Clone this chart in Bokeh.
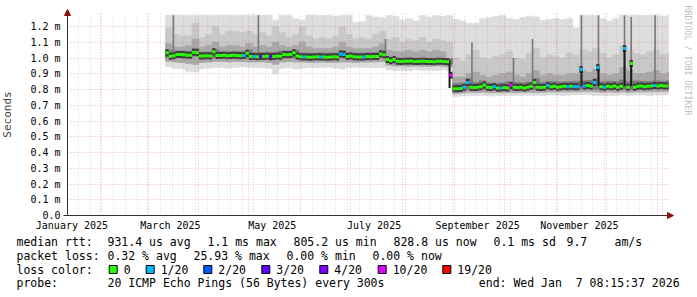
import math
from bokeh.plotting import figure
from bokeh.models import Range1d, FixedTicker, Grid, Label, Arrow, NormalHead
from bokeh.embed import file_html
from bokeh.resources import INLINE
from bokeh.core.properties import value

# ---------------- data ----------------
# time in days since 2025-01-01 00:00
X_START = 11.344          # Jan 12 2025 08:15:37
X_END = 371.344           # Jan 7 2026 08:15:37
Y_TOP = 1.2825            # ms

label_days = [14, 73, 134, 195, 257, 318]
label_names = ["January 2025", "March 2025", "May 2025", "July 2025",
               "September 2025", "November 2025"]
month_start_days = [31, 59, 90, 120, 151, 181, 212, 243, 273, 304, 334, 365]

y_ticks = [0, 0.1, 0.2, 0.3, 0.4, 0.5, 0.6, 0.7, 0.8, 0.9, 1, 1.1, 1.2]
y_tick_labels = ["0.0", "0.1 m", "0.2 m", "0.3 m", "0.4 m", "0.5 m", "0.6 m",
                 "0.7 m", "0.8 m", "0.9 m", "1.0 m", "1.1 m", "1.2 m"]

# smoke, 4-day consolidation starting at day 70 (ms)
SMOKE_START = 70
SMOKE_STEP = 4
smoke_max = [1.272,1.272,1.272,1.272,1.272,1.272,1.272,1.272,1.272,1.272,
             1.272,1.272,1.272,1.272,1.272,1.272,1.24,1.272,1.272,1.25,
             1.24,1.272,1.272,1.27,1.272,1.265,1.272,1.272,1.225,1.23,
             1.27,1.26,1.255,1.27,1.265,1.24,1.25,1.235,1.27,1.26,
             1.27,1.265,1.27,1.245,1.235,1.22,1.22,1.25,1.255,1.265,
             1.27,1.25,1.245,1.255,1.265,1.26,1.24,1.245,1.25,1.245,
             1.25,1.19,1.272,1.272,1.27,1.25,1.235,1.25,1.272,1.272,
             1.272,1.27,1.272,1.272,1.265,1.272]
smoke_hi2 = [1.19,1.15,1.14,1.14,1.22,1.13,1.15,1.2,1.15,1.17,
             1.17,1.16,1.17,1.15,1.16,1.14,1.2,1.16,1.13,1.15,
             1.2,1.14,1.12,1.13,1.12,1.14,1.2,1.15,1.12,1.13,
             1.12,1.15,1.17,1.12,1.13,1.1,1.12,1.11,1.13,1.1,
             1.12,1.11,1.1,1.0,0.98,1.02,1.05,1.0,0.99,1.01,
             1.02,1.04,1.0,0.99,1.03,1.06,1.0,1.02,1.01,1.0,
             1.03,1.02,1.05,1.04,1.06,1.03,1.0,1.02,1.08,1.05,
             1.03,1.02,1.04,1.05,1.02,1.03]
smoke_hi1 = [1.09,1.07,1.07,1.08,1.12,1.07,1.08,1.1,1.07,1.08,
             1.08,1.07,1.09,1.07,1.08,1.07,1.1,1.08,1.07,1.08,
             1.1,1.07,1.06,1.06,1.06,1.07,1.1,1.07,1.06,1.06,
             1.06,1.07,1.09,1.05,1.04,1.04,1.05,1.04,1.05,1.04,
             1.05,1.04,1.0,0.88,0.88,0.9,0.91,0.89,0.88,0.89,
             0.9,0.91,0.89,0.88,0.9,0.92,0.89,0.9,0.89,0.89,
             0.9,0.9,0.92,0.91,0.93,0.9,0.89,0.9,0.94,0.92,
             0.9,0.9,0.91,0.92,0.9,0.91]
smoke_hi0 = [1.05,1.045,1.045,1.042,1.06,1.038,1.038,1.055,1.04,1.04,
             1.042,1.04,1.05,1.035,1.035,1.035,1.036,1.045,1.045,1.05,
             1.033,1.032,1.03,1.032,1.032,1.032,1.048,1.035,1.032,1.032,
             1.034,1.035,1.048,1.005,1.0,0.998,1.0,0.999,0.998,0.997,
             0.999,0.997,0.995,0.838,0.84,0.87,0.845,0.855,0.842,0.84,
             0.842,0.85,0.845,0.842,0.848,0.87,0.845,0.852,0.85,0.848,
             0.85,0.852,0.855,0.858,0.87,0.85,0.852,0.85,0.86,0.85,
             0.855,0.852,0.85,0.855,0.852,0.855]
smoke_lo0 = [1.005,1.003,1.008,1.005,1.012,1.0,1.0,1.003,1.003,1.003,
             1.004,1.003,0.998,0.997,0.998,0.996,0.996,1.0,1.006,1.0,
             0.995,0.994,0.993,0.994,0.993,0.995,1.005,0.997,0.995,0.995,
             0.996,0.997,1.005,0.97,0.966,0.967,0.965,0.966,0.965,0.964,
             0.966,0.965,0.962,0.792,0.795,0.8,0.8,0.8,0.796,0.797,
             0.797,0.8,0.798,0.8,0.8,0.8,0.8,0.802,0.803,0.803,
             0.803,0.803,0.805,0.805,0.802,0.8,0.803,0.8,0.802,0.8,
             0.802,0.803,0.803,0.805,0.805,0.806]
smoke_lo1 = [0.98,0.975,0.972,0.965,0.96,0.972,0.975,0.978,0.978,0.975,
             0.978,0.978,0.975,0.975,0.975,0.972,0.96,0.975,0.978,0.975,
             0.975,0.972,0.972,0.974,0.972,0.972,0.975,0.974,0.972,0.974,
             0.975,0.975,0.978,0.955,0.95,0.95,0.948,0.95,0.948,0.947,
             0.95,0.948,0.945,0.775,0.778,0.782,0.782,0.782,0.78,0.78,
             0.78,0.782,0.78,0.782,0.782,0.782,0.782,0.785,0.785,0.785,
             0.785,0.785,0.787,0.787,0.785,0.782,0.785,0.782,0.785,0.782,
             0.785,0.785,0.785,0.787,0.787,0.788]
smoke_min = [0.944,0.935,0.93,0.915,0.912,0.93,0.935,0.94,0.94,0.935,
             0.94,0.945,0.94,0.938,0.94,0.935,0.9,0.935,0.94,0.93,
             0.935,0.94,0.938,0.942,0.94,0.935,0.93,0.94,0.942,0.94,
             0.94,0.938,0.94,0.925,0.92,0.922,0.918,0.925,0.92,0.922,
             0.92,0.925,0.92,0.755,0.758,0.76,0.76,0.762,0.758,0.76,
             0.76,0.762,0.76,0.762,0.76,0.762,0.76,0.765,0.765,0.762,
             0.765,0.765,0.768,0.765,0.762,0.76,0.762,0.76,0.765,0.762,
             0.765,0.765,0.763,0.765,0.765,0.768]

# thin outlier streaks (single days)
streak_day = [74.8, 125.7, 201.8, 253.6, 278.5, 289.9, 319.2, 329.4, 345.0, 349.0, 363.3]
streak_lo = [1.03, 1.03, 1.03, 0.84, 0.84, 0.84, 0.84, 0.84, 0.84, 0.84, 0.84]
streak_hi = [1.272, 1.272, 1.12, 1.1, 1.0, 1.12, 1.272, 1.272, 1.272, 1.26, 1.272]
jump_day = [240.2, 319.2, 329.4, 345.0, 349.0]
jump_lo = [0.81, 0.82, 0.82, 0.82, 0.82]
jump_hi = [0.985, 0.93, 0.94, 1.06, 0.965]

# median rtt, 2-day steps starting at day 70 (ms)
MED_START = 70
MED_STEP = 2
median = [1.033,1.011,1.015,1.022,1.022,1.021,1.018,1.018,1.037,1.035,
          1.013,1.013,1.014,1.013,1.04,1.016,1.016,1.018,1.015,1.016,
          1.017,1.016,1.015,1.016,1.03,1.009,1.01,1.008,1.009,1.01,
          1.011,1.008,1.01,1.012,1.011,1.022,1.02,1.022,1.033,1.012,
          1.008,1.007,1.007,1.005,1.006,1.008,1.006,1.007,1.005,1.006,
          1.008,1.007,1.025,1.022,1.01,1.012,1.008,1.006,1.007,1.007,
          1.009,1.008,1.01,1.01,1.025,1.02,0.99,0.982,0.99,0.98,
          0.978,0.98,0.979,0.981,0.978,0.977,0.979,0.98,0.978,0.977,
          0.976,0.979,0.98,0.978,0.976,0.89,0.805,0.805,0.806,0.815,
          0.845,0.815,0.812,0.815,0.818,0.828,0.815,0.812,0.818,0.81,
          0.81,0.812,0.81,0.825,0.815,0.812,0.815,0.81,0.815,0.82,
          0.845,0.815,0.813,0.815,0.825,0.818,0.82,0.815,0.818,0.82,
          0.817,0.82,0.817,0.817,0.927,0.822,0.825,0.82,0.845,0.94,
          0.818,0.815,0.82,0.818,0.822,0.815,0.82,1.06,0.815,0.965,
          0.815,0.82,0.822,0.818,0.82,0.822,0.825,0.822,0.825,0.822,
          0.822]
loss = [0,0,0,0,0,0,0,0,0,0,
        0,0,0,0,0,0,0,0,0,0,
        0,0,0,1,0,0,1,0,3,0,
        0,3,0,0,0,0,0,0,0,0,
        0,1,0,0,0,0,1,0,0,0,
        0,0,1,1,0,0,0,0,0,1,
        0,0,0,0,0,0,0,0,0,0,
        0,0,0,0,0,0,0,0,0,0,
        0,0,0,0,0,10,0,0,0,1,
        1,0,0,0,0,0,0,0,1,0,
        1,0,0,10,0,0,0,0,0,0,
        0,0,0,0,1,0,0,0,0,0,
        1,0,1,1,1,1,0,0,1,1,
        0,1,0,0,0,0,0,1,0,0,
        0,0,0,0,0,0,1,0,0,0,
        0]

loss_levels = ["0", "1/20", "2/20", "3/20", "4/20", "10/20", "19/20"]
loss_values = [0, 1, 2, 3, 4, 10, 19]
loss_colors = ["#26ff00", "#00b8ff", "#0059ff", "#5e00ff", "#7e00ff", "#dd00ff", "#ff0000"]

legend_rows = [
    [(16, "median rtt:"), (107, "931.4 us avg"), (207, "1.1 ms max"), (293, "805.2 us min"),
     (393, "828.8 us now"), (493, "0.1 ms sd"), (566, "9.7"), (614, "am/s")],
    [(16, "packet loss:"), (107, "0.32 % avg"), (193, "25.93 % max"), (286, "0.00 % min"),
     (372, "0.00 % now")],
    [(16, "loss color:")],
    [(16, "probe:"), (107, "20 ICMP Echo Pings (56 Bytes) every 300s"),
     (478.3, "end: Wed Jan"), (575.2, "7 08:15:37 2026")],
]

# ---------------- geometry (page pixels -> data) ----------------
W, H = 697, 297
K = 601 / 360.0     # px per day
V = 157.5           # px per ms
def px_x(px):
    return X_START + (px - 67) / K
def px_y(py):
    return (215 - py) / V

FONT = "DejaVu Sans Mono"
p = figure(width=W, height=H, x_range=Range1d(px_x(0), px_x(W)), y_range=Range1d(px_y(H), px_y(0)),
           output_backend="svg", toolbar_location=None, min_border=0)
p.outline_line_color = None
p.background_fill_color = "white"
p.border_fill_color = "white"

# smoke
n = len(smoke_max)
sl = [SMOKE_START + SMOKE_STEP * i for i in range(n)]
sr = [min(d + SMOKE_STEP, X_END) for d in sl]
layers = [
    (smoke_min, smoke_max, "#dddddd"),
    (smoke_lo1, smoke_hi2, "#c8c8c8"),
    (smoke_lo1, smoke_hi1, "#a8a8a8"),
    (smoke_lo0, smoke_hi0, "#7a7a7a"),
]
for lo, hi, col in layers:
    p.quad(left=sl, right=sr, bottom=lo, top=hi, fill_color=col, line_color=col, line_width=0.6)

p.quad(left=[d - 0.5 for d in streak_day], right=[d + 0.5 for d in streak_day],
       bottom=streak_lo, top=streak_hi, fill_color="#7a7a7a", line_color=None)

m = len(median)
ml = [MED_START + MED_STEP * j for j in range(m)]
mr = [min(d + MED_STEP, X_END) for d in ml]
p.segment(x0=ml, x1=mr, y0=median, y1=median, line_color="#3a3a3a", line_width=7)
p.quad(left=[d - 0.6 for d in jump_day], right=[d + 0.6 for d in jump_day],
       bottom=jump_lo, top=jump_hi, fill_color="#1a1a1a", line_color=None)
cmap = dict(zip(loss_values, loss_colors))
p.segment(x0=ml, x1=mr, y0=median, y1=median, line_color=[cmap[v] for v in loss], line_width=3)

# axes drawn inside the canvas frame at fixed positions
p.xaxis.fixed_location = 0
p.yaxis.fixed_location = X_START
p.xaxis.bounds = (px_x(63), X_END)
p.yaxis.bounds = (0, Y_TOP)
p.xaxis.ticker = FixedTicker(ticks=label_days)
p.xaxis.major_label_overrides = dict(zip(label_days, label_names))
p.yaxis.ticker = FixedTicker(ticks=y_ticks)
p.yaxis.major_label_overrides = dict(zip(y_ticks, y_tick_labels))
for ax in (p.xaxis[0], p.yaxis[0]):
    ax.major_tick_out = 0
    ax.major_tick_in = 0
    ax.minor_tick_out = 0
    ax.minor_tick_in = 0
    ax.major_tick_line_color = None
    ax.minor_tick_line_color = None
    ax.major_label_text_font = FONT
    ax.major_label_text_font_size = "10px"
    ax.major_label_text_color = "black"
    ax.axis_line_color = "#333333"
p.yaxis.major_label_standoff = 7
p.xaxis.major_label_standoff = 4
p.yaxis.axis_label = "Seconds"
p.yaxis.axis_label_text_font = FONT
p.yaxis.axis_label_text_font_size = "11px"
p.yaxis.axis_label_text_font_style = "normal"
p.yaxis.axis_label_standoff = 13

# grids, limited to the chart area
p.xgrid.ticker = FixedTicker(ticks=month_start_days)
p.ygrid.ticker = FixedTicker(ticks=y_ticks[1:])
p.xgrid.cross_bounds = (0, Y_TOP)
p.ygrid.cross_bounds = (X_START, X_END)
for g in (p.xgrid[0], p.ygrid[0]):
    g.grid_line_color = "#de5050"
    g.grid_line_alpha = 0.4
    g.grid_line_dash = "1 2"
    g.level = "annotation"
week_days = [d for d in range(18, 372, 7) if d not in month_start_days]
p.add_layout(Grid(dimension=0, ticker=FixedTicker(ticks=week_days), grid_line_color="#8f8f8f",
                  grid_line_alpha=0.35, grid_line_dash="1 2", level="annotation",
                  cross_bounds=(0, Y_TOP)))

# arrows
p.add_layout(Arrow(end=NormalHead(size=6, fill_color="#8b1010", line_color="#8b1010"),
                   x_start=X_END - 1, y_start=0, x_end=px_x(673), y_end=0,
                   line_color="#333333", line_width=1))
p.add_layout(Arrow(end=NormalHead(size=6, fill_color="#8b1010", line_color="#8b1010"),
                   x_start=X_START, y_start=1.25, x_end=X_START, y_end=px_y(9),
                   line_color="#333333", line_width=1))

p.add_layout(Label(x=px_x(687), y=px_y(5), text="RRDTOOL / TOBI OETIKER", angle=-math.pi / 2,
                   text_font=FONT, text_font_size="8.3px", text_color="#c0c0c0",
                   text_align="left", text_baseline="middle"))

# ---------------- legend block ----------------
row_py = [241, 255, 269, 282.7]
tx, ty, tt = [], [], []
for r, row in enumerate(legend_rows):
    for x, t in row:
        tx.append(px_x(x)); ty.append(px_y(row_py[r])); tt.append(t)
sw_left = [108.7, 145.7, 203.3, 261.3, 319.3, 377.7, 442.3]
for k, lab in enumerate(loss_levels):
    tx.append(px_x(sw_left[k] + 14.5)); ty.append(px_y(row_py[2])); tt.append(lab)
p.text(x=tx, y=ty, text=tt, text_font=value(FONT), text_font_size="11.5px",
       text_baseline="middle", text_align="left", text_color="black")
p.quad(left=[px_x(s) for s in sw_left], right=[px_x(s + 8) for s in sw_left],
       top=[px_y(row_py[2] - 4)] * 7, bottom=[px_y(row_py[2] + 4)] * 7,
       fill_color=loss_colors, line_color="black", line_width=1)

open("out.html", "w").write(file_html(p, INLINE))
